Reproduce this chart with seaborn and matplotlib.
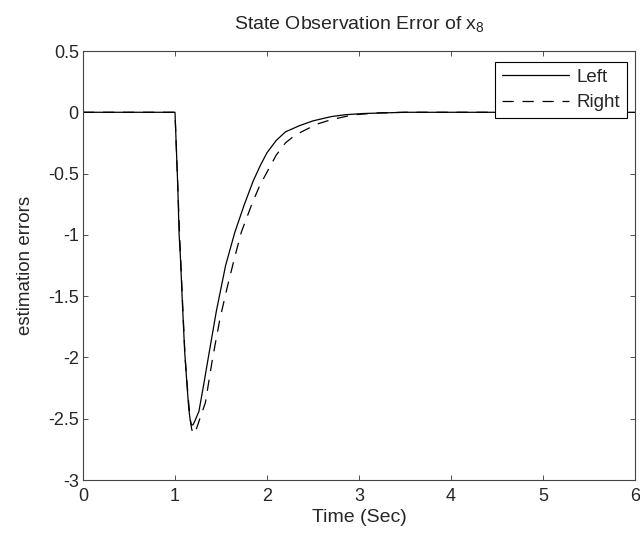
import numpy as np
import pandas as pd
import matplotlib
matplotlib.use("Agg")
import matplotlib.pyplot as plt
import seaborn as sns

# Data
left_time = [0.0, 1.00, 1.01, 1.03, 1.045, 1.06, 1.08, 1.105, 1.13, 1.15, 1.165, 1.178, 1.195, 1.215,
             1.26, 1.31, 1.36, 1.45, 1.55, 1.65, 1.75, 1.85, 1.93, 2.00, 2.10, 2.20, 2.35,
             2.50, 2.70, 2.85, 3.05, 3.50, 6.00]
left_err = [0.0, 0.0, -0.20, -0.60, -1.00, -1.20, -1.55, -1.95, -2.22, -2.42, -2.51, -2.55, -2.55, -2.52,
            -2.44, -2.23, -2.01, -1.62, -1.25, -0.98, -0.76, -0.56, -0.43, -0.33, -0.23, -0.16, -0.11,
            -0.07, -0.035, -0.02, -0.01, 0.0, 0.0]

right_time = [0.0, 1.00, 1.01, 1.03, 1.05, 1.065, 1.085, 1.11, 1.14, 1.165, 1.18, 1.195, 1.21, 1.225,
              1.27, 1.33, 1.41, 1.49, 1.57, 1.65, 1.72, 1.84, 1.92, 2.02, 2.10, 2.20, 2.30, 2.40,
              2.55, 2.70, 2.85, 2.95, 3.20, 3.50, 6.00]
right_err = [0.0, 0.0, -0.20, -0.60, -1.00, -1.25, -1.60, -2.00, -2.30, -2.50, -2.58, -2.62, -2.62, -2.60,
             -2.50, -2.37, -2.00, -1.68, -1.42, -1.18, -0.98, -0.74, -0.60, -0.46, -0.35, -0.25, -0.19, -0.15,
             -0.095, -0.06, -0.035, -0.02, -0.005, 0.0, 0.0]

series_names = ["Left", "Right"]
x_ticks = [0, 1, 2, 3, 4, 5, 6]
y_ticks = [-3, -2.5, -2, -1.5, -1, -0.5, 0, 0.5]
y_tick_labels = ["-3", "-2.5", "-2", "-1.5", "-1", "-0.5", "0", "0.5"]

df = pd.concat([
    pd.DataFrame({"t": left_time, "e": left_err, "series": series_names[0]}),
    pd.DataFrame({"t": right_time, "e": right_err, "series": series_names[1]}),
], ignore_index=True)

sns.set_style("ticks")
plt.rcParams["font.family"] = ["Liberation Sans", "DejaVu Sans"]
plt.rcParams["mathtext.fontset"] = "custom"
plt.rcParams["mathtext.rm"] = "Liberation Sans"
plt.rcParams["mathtext.it"] = "Liberation Sans"

fig = plt.figure(figsize=(6.4, 5.4), dpi=100)
# axes box: x 83..635 px, y 51..480 px
ax = fig.add_axes([83 / 640, 1 - 480 / 540, 552 / 640, 429 / 540])

sns.lineplot(data=df, x="t", y="e", style="series", style_order=series_names,
             dashes={"Left": "", "Right": (9, 7)}, color="black", linewidth=0.9,
             sort=False, estimator=None, ax=ax)

ax.set_xlim(0, 6)
ax.set_ylim(-3, 0.5)
ax.set_xticks(x_ticks)
ax.set_yticks(y_ticks)
ax.set_yticklabels(y_tick_labels)
ax.tick_params(direction="in", top=True, right=True, labelsize=13, length=3.5,
               width=0.6, color="#333333")
ax.tick_params(axis="x", pad=6)
ax.tick_params(axis="y", pad=3)
for s in ax.spines.values():
    s.set_visible(True)
    s.set_linewidth(0.8)
    s.set_color("#444444")

ax.set_xlabel("Time (Sec)", fontsize=14, labelpad=3)
ax.set_ylabel("estimation errors", fontsize=13.5, labelpad=10)
ax.set_title("State Observation Error of x$_8$", fontsize=14, pad=16)

leg = ax.legend(loc="upper right", bbox_to_anchor=(1 - 8 / 552, 1 - 11 / 429),
                fontsize=13.5, frameon=True, fancybox=False,
                edgecolor="black", framealpha=1, handlelength=3.6,
                borderaxespad=0.0, borderpad=0.36, labelspacing=0.45, handletextpad=0.4)
leg.get_frame().set_linewidth(0.8)
leg.set_title(None)

fig.savefig("out.png", dpi=100)
